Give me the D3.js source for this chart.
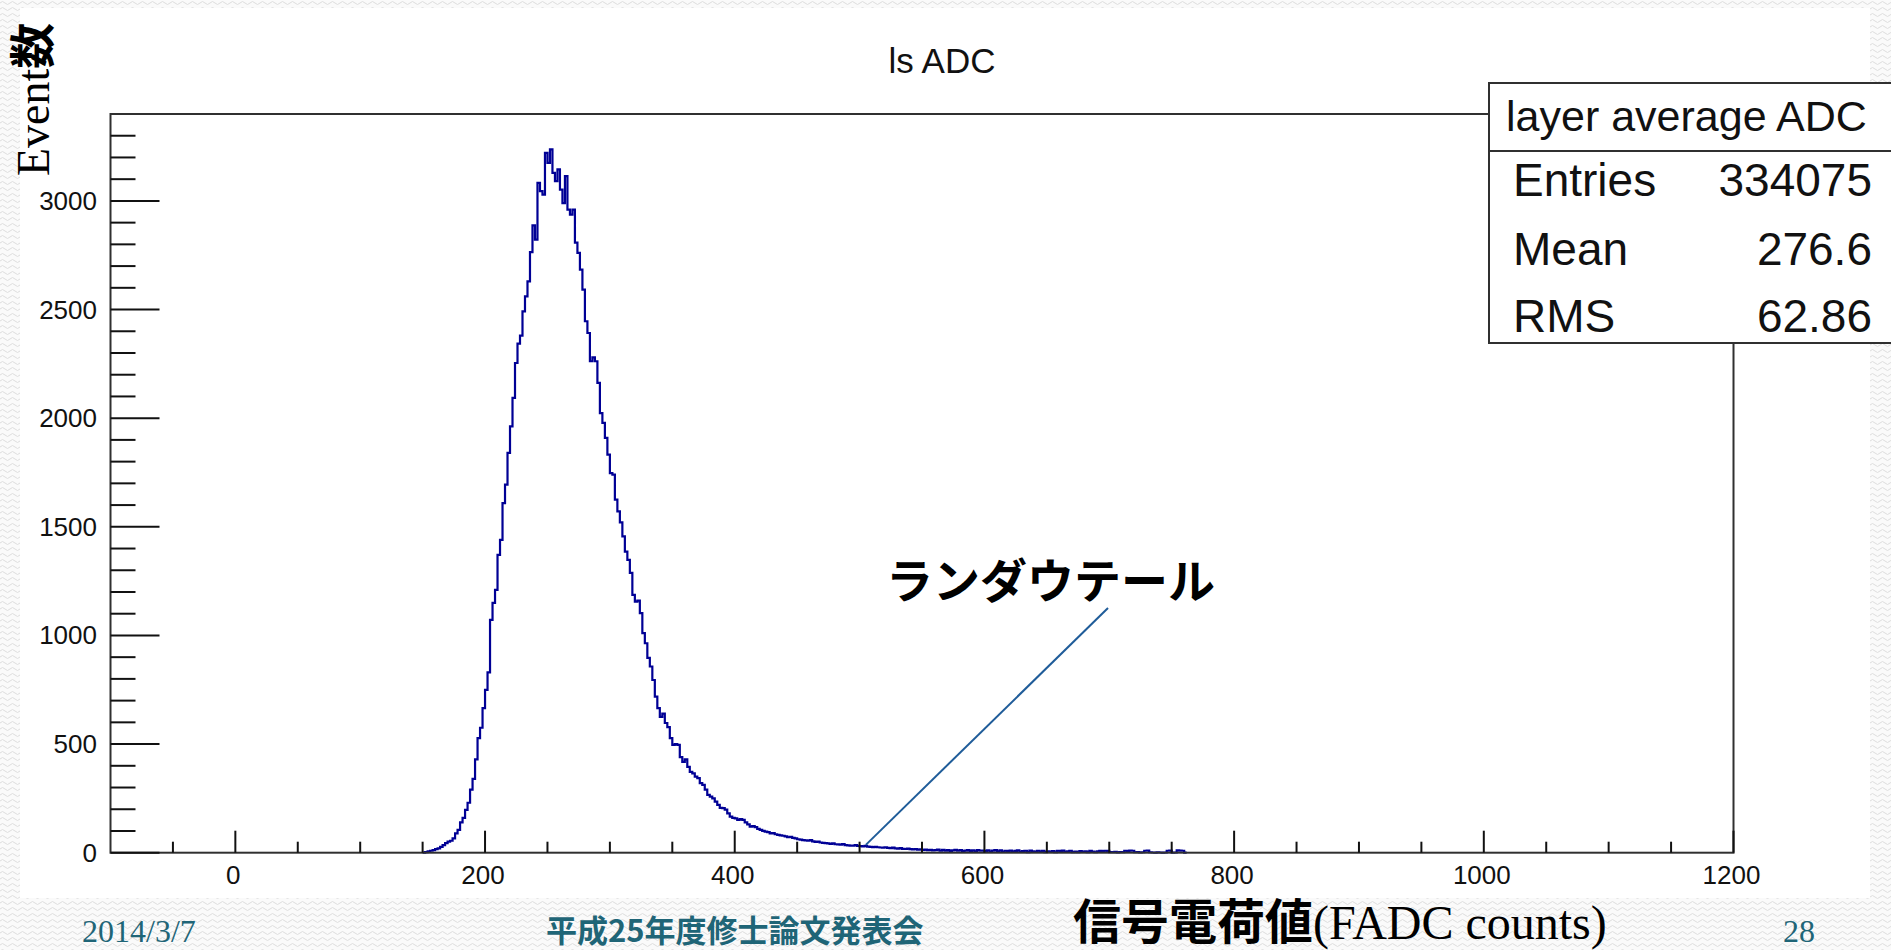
<!DOCTYPE html>
<html><head><meta charset="utf-8">
<script src="https://cdn.jsdelivr.net/npm/d3@7"></script>
<style>html,body{margin:0;padding:0;background:#fff;overflow:hidden}</style>
</head><body>
<svg id="c" width="1891" height="950"></svg>
<script>
// ---- data ----
const binStart = 150;
const binWidth = 2;
const counts = [
0,3,6,9,12,16,20,27,35,44,51,55,66,89,105,140,160,197,230,290,
340,430,527,575,665,749,830,1072,1150,1210,1371,1440,1609,1694,1840,1962,2093,2254,2343,2380,
2492,2561,2630,2764,2887,2822,3083,3045,3029,3221,3175,3237,3129,3091,3145,3052,2990,3114,2960,2937,
2960,2808,2761,2684,2592,2446,2392,2262,2280,2262,2162,2023,1978,1909,1832,1747,1740,1625,1571,1520,
1456,1386,1348,1288,1187,1156,1160,1103,1011,964,897,857,795,718,665,625,640,597,578,527,
496,500,496,440,418,430,395,372,365,350,343,320,312,290,266,258,250,235,220,206,
205,198,181,166,160,158,151,155,151,140,130,120,122,118,110,105,100,97,95,89,
90,85,82,80,78,75,71,73,68,66,62,60,58,57,55,58,52,50,51,47,
45,44,43,40,43,39,38,37,40,35,34,33,32,35,31,30,29,31,28,27,
26,27,25,24,23,25,22,21,23,20,19,21,18,17,19,16,15,17,14,15,
13,14,12,13,11,
12,14,9,13,10,12,8,11,13,9,
12,7,10,12,8,11,6,12,9,10,
7,11,5,10,12,6,11,4,9,7,
10,5,8,11,4,7,9,3,10,6,
4,9,5,8,3,6,4,7,2,9,
8,10,4,6,9,3,5,2,7,4,
6,3,8,5,2,6,8,7,9,8,
3,2,4,1,3,2,9,8,10,9,
2,3,1,2,9,10,2,1,0,2,
1,0,1,9,10,0,1,11,10,9,
0
];
const xMajorTicks = [0, 200, 400, 600, 800, 1000, 1200];
const xMinorStep = 50;
const yMajorTicks = [0, 500, 1000, 1500, 2000, 2500, 3000];
const yMinorStep = 100;
const xDomain = [-100, 1200];
const yDomain = [0, 3400];
const titleText = "ls ADC";
const statsTitle = "layer average ADC";
const statsLabels = ["Entries", "Mean", "RMS"];
const statsValues = ["334075", "276.6", "62.86"];
const annotationText = "ランダウテール";
const annotationPoint = [505, 13];
const yLabelLatin = "Event";
const yLabelCJK = "数";
const xLabelCJK = "信号電荷値";
const xLabelLatin = "(FADC counts)";
const footerDate = "2014/3/7";
const footerTitle = "平成25年度修士論文発表会";
const footerPage = "28";

// ---- drawing ----
const svg = d3.select("#c");
const W = 1891, H = 950;
const L = 110.5, R = 1733.5, T = 114, B = 852.7;
const x = d3.scaleLinear().domain(xDomain).range([L, R]);
const y = d3.scaleLinear().domain(yDomain).range([B, T]);
const SANS = "'Liberation Sans', Arial, sans-serif";
const SERIF = "'Liberation Serif', 'Times New Roman', serif";
const CJK = "'Noto Sans CJK JP', sans-serif";

// background texture
const defs = svg.append("defs");
const pat = defs.append("pattern").attr("id", "wave").attr("patternUnits", "userSpaceOnUse")
  .attr("width", 10).attr("height", 6);
pat.append("rect").attr("width", 10).attr("height", 6).attr("fill", "#fafafa");
pat.append("path").attr("d", "M0,3 L2.5,1.5 L5,3 L7.5,4.5 L10,3").attr("fill", "none")
  .attr("stroke", "#dedede").attr("stroke-width", 1);
svg.append("rect").attr("width", W).attr("height", H).attr("fill", "url(#wave)");
svg.append("rect").attr("x", 20).attr("y", 8).attr("width", 1850).attr("height", 890).attr("fill", "#fff");

// histogram
const pts = [[binStart, 0]];
counts.forEach((c, i) => pts.push([binStart + i * binWidth, c]));
pts.push([binStart + counts.length * binWidth, counts[counts.length - 1]]);
pts.push([binStart + counts.length * binWidth, 0]);
const line = d3.line().x(d => x(d[0])).y(d => y(d[1])).curve(d3.curveStepAfter);
svg.append("path").attr("d", line(pts)).attr("fill", "none")
  .attr("stroke", "#000095").attr("stroke-width", 2.2).attr("stroke-linejoin", "miter");

// frame
svg.append("rect").attr("x", L).attr("y", T).attr("width", R - L).attr("height", B - T)
  .attr("fill", "none").attr("stroke", "#303030").attr("stroke-width", 2);

// x axis ticks
const xMinor = d3.range(xDomain[0], xDomain[1] + 1, xMinorStep).filter(v => !xMajorTicks.includes(v) && v > xDomain[0]);
const gx = svg.append("g");
gx.selectAll(".xm").data(xMinor).join("line")
  .attr("x1", d => x(d)).attr("x2", d => x(d)).attr("y1", B).attr("y2", B - 11)
  .attr("stroke", "#111").attr("stroke-width", 2);
gx.selectAll(".xM").data(xMajorTicks).join("line")
  .attr("x1", d => x(d)).attr("x2", d => x(d)).attr("y1", B).attr("y2", B - 22)
  .attr("stroke", "#111").attr("stroke-width", 2);
gx.selectAll("text").data(xMajorTicks).join("text")
  .attr("x", d => x(d) - 2).attr("y", 884).attr("text-anchor", "middle")
  .attr("font-family", SANS).attr("font-size", 26).attr("fill", "#111").text(d => d);

// y axis ticks
const yMinor = d3.range(yDomain[0], yDomain[1], yMinorStep).filter(v => !yMajorTicks.includes(v));
const gy = svg.append("g");
gy.selectAll(".ym").data(yMinor).join("line")
  .attr("x1", L).attr("x2", L + 25).attr("y1", d => y(d)).attr("y2", d => y(d))
  .attr("stroke", "#111").attr("stroke-width", 2);
gy.selectAll(".yM").data(yMajorTicks).join("line")
  .attr("x1", L).attr("x2", L + 49).attr("y1", d => y(d)).attr("y2", d => y(d))
  .attr("stroke", "#111").attr("stroke-width", 2);
gy.selectAll("text").data(yMajorTicks).join("text")
  .attr("x", 97).attr("y", d => y(d) + 9).attr("text-anchor", "end")
  .attr("font-family", SANS).attr("font-size", 26).attr("fill", "#111").text(d => d);

// title
svg.append("text").attr("x", 942).attr("y", 73).attr("text-anchor", "middle")
  .attr("font-family", SANS).attr("font-size", 35).attr("fill", "#111").text(titleText);

// stats box
const bx = 1489, by = 83, bb = 343;
svg.append("rect").attr("x", bx).attr("y", by).attr("width", W - bx + 10).attr("height", bb - by)
  .attr("fill", "#fff").attr("stroke", "#303030").attr("stroke-width", 2);
svg.append("line").attr("x1", bx).attr("x2", W + 5).attr("y1", 151).attr("y2", 151)
  .attr("stroke", "#303030").attr("stroke-width", 2);
svg.append("text").attr("x", 1506).attr("y", 131).attr("font-family", SANS).attr("font-size", 43)
  .attr("fill", "#111").text(statsTitle);
const rowY = [196, 265, 332];
statsLabels.forEach((lab, i) => {
  svg.append("text").attr("x", 1513).attr("y", rowY[i]).attr("font-family", SANS).attr("font-size", 46)
    .attr("fill", "#111").text(lab);
  svg.append("text").attr("x", 1872).attr("y", rowY[i]).attr("text-anchor", "end").attr("font-family", SANS)
    .attr("font-size", 46).attr("fill", "#111").text(statsValues[i]);
});

// annotation
svg.append("line").attr("x1", 1108).attr("y1", 608).attr("x2", x(annotationPoint[0])).attr("y2", y(annotationPoint[1]) - 5)
  .attr("stroke", "#1f5c99").attr("stroke-width", 2);
svg.append("text").attr("x", 886).attr("y", 598).attr("font-family", CJK).attr("font-weight", "bold")
  .attr("font-size", 47).attr("fill", "#000").text(annotationText);

// y axis label (rotated)
const yl = svg.append("text").attr("transform", "translate(49,176) rotate(-90)")
  .attr("font-size", 46).attr("fill", "#000");
yl.append("tspan").attr("font-family", SERIF).text(yLabelLatin);
yl.append("tspan").attr("font-family", CJK).attr("font-weight", "bold").text(yLabelCJK);

// x axis label
const xl = svg.append("text").attr("x", 1073).attr("y", 939).attr("font-size", 48).attr("fill", "#000");
xl.append("tspan").attr("font-family", CJK).attr("font-weight", "bold").text(xLabelCJK);
xl.append("tspan").attr("font-family", SERIF).text(xLabelLatin);

// footer
svg.append("text").attr("x", 82).attr("y", 942).attr("font-family", SERIF).attr("font-size", 32)
  .attr("fill", "#1f6577").text(footerDate);
svg.append("text").attr("x", 546).attr("y", 942).attr("font-family", CJK).attr("font-weight", "bold")
  .attr("font-size", 31).attr("fill", "#1f6577").text(footerTitle);
svg.append("text").attr("x", 1783).attr("y", 942).attr("font-family", SERIF).attr("font-size", 32)
  .attr("fill", "#1f6577").text(footerPage);
</script>
</body></html>
